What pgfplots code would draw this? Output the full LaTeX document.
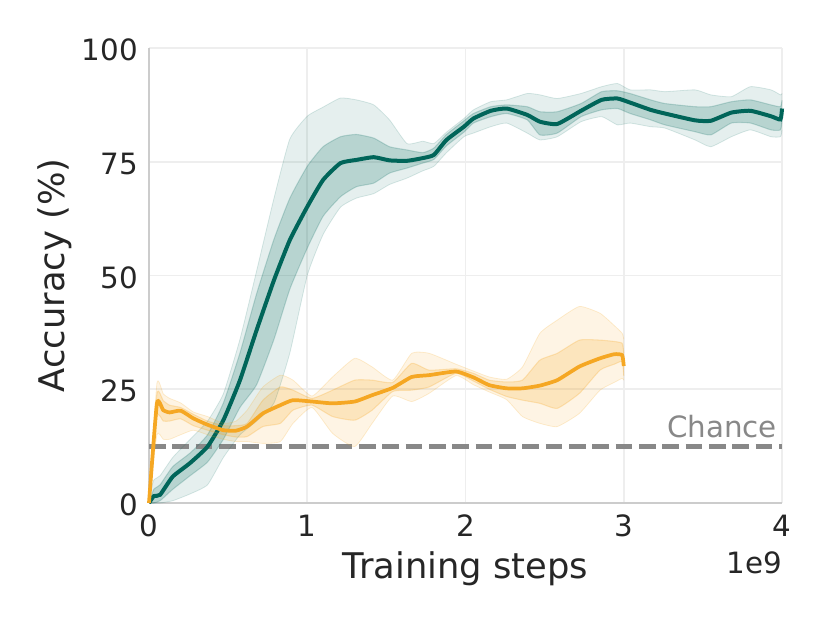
\documentclass[border=0pt]{standalone}
\usepackage{pgfplots}
\pgfplotsset{compat=1.18}
\usepackage{pgfplotstable}
\usepgfplotslibrary{fillbetween}
\usepackage{fontspec}
\setmainfont{DejaVu Sans}
\definecolor{teal}{RGB}{0,101,89}
\definecolor{orng}{RGB}{245,167,35}
\definecolor{spine}{RGB}{204,204,204}
\definecolor{gridc}{RGB}{238,238,238}
\definecolor{txt}{RGB}{38,38,38}
\definecolor{chance}{RGB}{136,136,136}

\pgfplotstableread{
x     olo   ilo   m     ihi   ohi
0.00  0     0     0     0     1
0.03  0     0     1.5   3     5
0.07  0     0.5   1.8   4     6
0.15  0.5   3     5.8   8     10
0.26  2     6     8.8   11    14
0.37  4     9     12.4  15    18
0.47  10    14    18.2  22    24
0.575 15    21    27    33    36
0.68  18    26    38    46    51
0.79  22    36    49    58    67
0.89  33    47    57.8  67    80
1.00  50    56    65.1  74    85
1.10  59    63    71    78.3  87
1.21  65    67.3  74.7  80.5  89
1.31  67    69.5  75.4  81    88.6
1.42  68    70.3  76    80.2  87.5
1.52  70    72.5  75.3  78.3  84.2
1.63  71.4  73.6  75.2  77.6  79
1.73  73    74.7  75.8  77    79.5
1.80  74    75.5  76.5  78    79
1.88  77    78.5  79.8  81    81.5
1.99  80.5  81.5  82.7  84    84.5
2.05  81.3  83.5  84.5  85.6  86.4
2.16  82.7  84.9  86.2  87.1  88.2
2.26  83.5  85.6  86.7  87.5  88.6
2.39  81.3  84.2  85.3  87.1  90.0
2.47  79.8  80.9  83.8  86.0  89.7
2.58  80.5  81.3  83.3  86.0  88.9
2.73  83.8  84.9  86.2  87.8  90.0
2.86  84.9  86.4  88.6  90.4  91.5
2.96  83.1  86.7  88.9  90.6  92.2
3.04  83.5  85.6  88.0  90.0  90.8
3.17  82.7  84.2  86.4  88.6  90.8
3.26  82.4  83.1  85.6  87.8  90.4
3.45  79.8  81.6  84.1  87.1  90.8
3.55  78.3  80.9  84.0  87.1  89.7
3.68  80.5  83.5  85.8  88.2  89.3
3.80  82.0  83.5  86.2  88.6  91.5
3.93  80.5  82.0  85.0  87.5  90.8
3.99  80.5  82.0  84.3  87.1  89.7
4.00  82    84    86.7  88.5  90
}\tealdata

\pgfplotstableread{
x     olo   ilo   m     ihi   ohi
0.00  0     0     0     0     0
0.05  15    19    21.9  24    26.3
0.09  14    18    20.4  22.5  24
0.13  14    18    19.9  21.5  23
0.20  15    18.5  20.3  21    22
0.28  16    17    18.6  19.5  20
0.37  15    16    17.2  18    19
0.47  14    15    16.0  17    17.5
0.55  13.5  14.5  15.9  17    18
0.62  13.5  14.6  16.8  17.5  20.4
0.72  13.1  16.8  19.7  22.6  25.5
0.83  13.5  17.5  21.5  25.5  28.1
0.91  17.5  20.4  22.6  24.8  27.0
1.03  21    21.5  22.3  23    23.5
1.16  15.3  19.0  21.9  24.8  27.7
1.30  12.4  18.2  22.3  27.0  31.8
1.41  17.5  20.4  23.7  27.0  29.9
1.54  23.5  24.5  25.3  26.5  27
1.66  22.3  24.8  27.7  30.7  32.9
1.77  24.1  25.5  28.1  29.2  32.9
1.94  28    28.5  28.9  29.5  30.5
2.05  26    26.8  27.6  28.5  29
2.15  24.4  25    25.9  27    27.7
2.26  22.7  23.4  25.2  26.6  27.2
2.36  19    22.6  25.2  27    29.9
2.47  17.5  21.9  25.8  31.4  37.3
2.58  16.8  20.8  27.0  32.9  40.2
2.72  19.7  24.1  30.0  35.8  43.2
2.85  24.8  29.2  31.8  35.8  41.7
2.94  26.5  30.5  32.7  35.5  39
2.99  27.4  31.1  32.5  35.1  37.3
3.00  27    28    30.1  33    36
}\orngdata

\begin{document}
\begin{tikzpicture}
\begin{axis}[
  scale only axis,
  width=474.75pt, height=341.25pt,
  xmin=0, xmax=4, ymin=0, ymax=100,
  axis x line*=bottom, axis y line*=left,
  axis line style={color=spine, line width=2pt},
  xtick={0,1,2,3,4}, ytick={0,25,50,75,100},
  major tick length=0pt,
  grid=major,
  major grid style={color=gridc, line width=1.4pt},
  tick label style={font=\fontsize{22}{26}\selectfont, text=txt},
  /pgf/number format/assume math mode=true,
  xticklabel style={anchor=base, inner sep=0pt, yshift=-25.5pt},
  yticklabel style={anchor=east, inner sep=0pt, xshift=-8.25pt, yshift=-1.5pt},
  xlabel={Training steps},
  ylabel={Accuracy (\%)},
  label style={font=\fontsize{26.5}{30}\selectfont, text=txt},
  xlabel style={at={(axis description cs:0.5,0)}, anchor=base, inner sep=0pt, yshift=-56.25pt},
  ylabel style={at={(axis description cs:0,0.5)}, anchor=base, inner sep=0pt, yshift=63pt},
  clip=false,
]
% chance
\addplot[chance, line width=3.6pt, dash pattern=on 12.5pt off 5pt] coordinates {(0,12.5) (4,12.5)};
% teal bands
\addplot[name path=tOL, draw=teal, draw opacity=0.15, line width=0.6pt, smooth, tension=0.3] table[x=x,y=olo]{\tealdata};
\addplot[name path=tOH, draw=teal, draw opacity=0.15, line width=0.6pt, smooth, tension=0.3] table[x=x,y=ohi]{\tealdata};
\addplot[fill=teal, fill opacity=0.1, draw=none] fill between[of=tOL and tOH];
\addplot[name path=tIL, draw=teal, draw opacity=0.2, line width=0.8pt, smooth, tension=0.3] table[x=x,y=ilo]{\tealdata};
\addplot[name path=tIH, draw=teal, draw opacity=0.2, line width=0.8pt, smooth, tension=0.3] table[x=x,y=ihi]{\tealdata};
\addplot[fill=teal, fill opacity=0.2, draw=none] fill between[of=tIL and tIH];
\addplot[teal, line width=3pt, smooth, tension=0.3] table[x=x,y=m]{\tealdata};
% orange bands
\addplot[name path=oOL, draw=orng, draw opacity=0.2, line width=0.6pt, smooth, tension=0.3] table[x=x,y=olo]{\orngdata};
\addplot[name path=oOH, draw=orng, draw opacity=0.2, line width=0.6pt, smooth, tension=0.3] table[x=x,y=ohi]{\orngdata};
\addplot[fill=orng, fill opacity=0.12, draw=none] fill between[of=oOL and oOH];
\addplot[name path=oIL, draw=orng, draw opacity=0.25, line width=0.8pt, smooth, tension=0.3] table[x=x,y=ilo]{\orngdata};
\addplot[name path=oIH, draw=orng, draw opacity=0.25, line width=0.8pt, smooth, tension=0.3] table[x=x,y=ihi]{\orngdata};
\addplot[fill=orng, fill opacity=0.2, draw=none] fill between[of=oIL and oIH];
\addplot[orng, line width=2.8pt, smooth, tension=0.3] table[x=x,y=m]{\orngdata};
% texts
\node[anchor=base east, text=chance, inner sep=0pt, font=\fontsize{22}{26}\selectfont] at (axis cs:3.97,14.5) {Chance};
\node[anchor=base east, text=txt, inner sep=0pt, font=\fontsize{22}{26}\selectfont, yshift=-52.5pt] at (axis description cs:1,0) {1e9};
\end{axis}
\path (-111.75pt,-90pt) rectangle (510.75pt,377.25pt);
\end{tikzpicture}
\end{document}
